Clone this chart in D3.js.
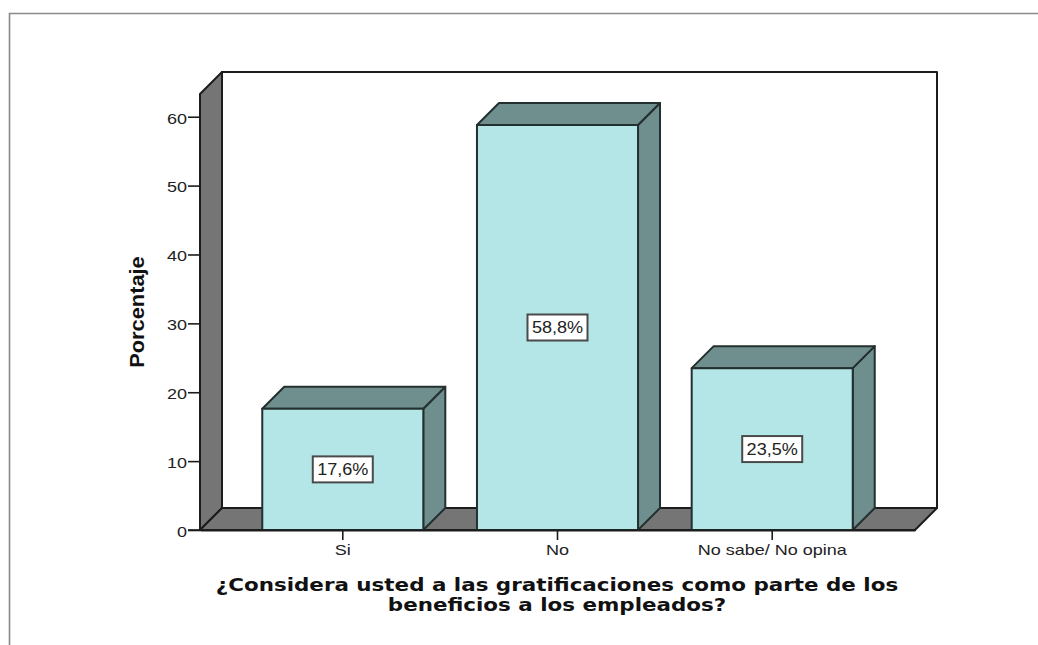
<!DOCTYPE html>
<html>
<head>
<meta charset="utf-8">
<script src="https://d3js.org/d3.v7.min.js"></script>
<style>
html,body{margin:0;padding:0;background:#fff;overflow:hidden}
svg{display:block}
</style>
</head>
<body>
<svg id="c" width="1038" height="645"></svg>
<script>
const categories = ["Si", "No", "No sabe/ No opina"];
const percentages = [17.6, 58.8, 23.5];
const valueLabels = ["17,6%", "58,8%", "23,5%"];
const yTicks = [0, 10, 20, 30, 40, 50, 60];
const yTitle = "Porcentaje";
const xTitleLines = ["¿Considera usted a las gratificaciones como parte de los", "beneficios a los empleados?"];

const svg = d3.select("#c");
const depth = 22;
const x0 = 200, x1 = 915, yBase = 530, yTop = 94;
const y = d3.scaleLinear().domain([0, 63.3]).range([yBase, yTop]);
const x = d3.scaleBand().domain(categories).range([x0, x1]).paddingInner(0.25).paddingOuter(0.29);
const ink = "#1c1c1c";
const poly = pts => pts.map(p => p.join(",")).join(" ");
// the reference's type is horizontally stretched
const stretch = (sel, k) => sel.each(function () {
  this.setAttribute("lengthAdjust", "spacingAndGlyphs");
  this.setAttribute("textLength", this.getComputedTextLength() * k);
});

// outer frame (cropped at right and bottom)
svg.append("path").attr("d", "M9.5,645V13.5H1038").attr("fill", "none").attr("stroke", "#8a8a8a").attr("stroke-width", 1.6);

// walls
const walls = svg.append("g").attr("stroke", ink).attr("stroke-width", 2).attr("stroke-linejoin", "round");
walls.append("rect").attr("x", x0 + depth).attr("y", yTop - depth).attr("width", x1 - x0).attr("height", yBase - yTop).attr("fill", "#fff");
walls.append("polygon").attr("fill", "#757575").attr("points", poly([[x0, yBase], [x0, yTop], [x0 + depth, yTop - depth], [x0 + depth, yBase - depth]]));
walls.append("polygon").attr("fill", "#757575").attr("points", poly([[x0, yBase], [x0 + depth, yBase - depth], [x1 + depth, yBase - depth], [x1, yBase]]));

// bars
const bars = svg.append("g").attr("stroke", "#23302f").attr("stroke-width", 2).attr("stroke-linejoin", "round")
  .selectAll("g").data(categories).join("g");
const bx = d => x(d), bw = x.bandwidth();
const by = (d, i) => y(percentages[i]);
bars.append("polygon").attr("fill", "#6f8e8e").attr("points", (d, i) => poly([[bx(d) + bw, yBase], [bx(d) + bw, by(d, i)], [bx(d) + bw + depth, by(d, i) - depth], [bx(d) + bw + depth, yBase - depth]]));
bars.append("polygon").attr("fill", "#6f8e8e").attr("points", (d, i) => poly([[bx(d), by(d, i)], [bx(d) + depth, by(d, i) - depth], [bx(d) + bw + depth, by(d, i) - depth], [bx(d) + bw, by(d, i)]]));
bars.append("rect").attr("fill", "#b4e6e7").attr("x", bx).attr("y", by).attr("width", bw).attr("height", (d, i) => yBase - by(d, i));

// axes
const font = "'Liberation Sans', Arial, sans-serif";
const yAxis = svg.append("g").attr("transform", `translate(${x0},0)`).call(d3.axisLeft(y).tickValues(yTicks).tickSize(12).tickPadding(1).tickSizeOuter(0));
const xAxis = svg.append("g").attr("transform", `translate(0,${yBase})`).call(d3.axisBottom(x).tickSize(10).tickPadding(4).tickSizeOuter(0));
yAxis.select(".domain").attr("stroke", ink).attr("stroke-width", 2);
xAxis.select(".domain").attr("stroke", ink).attr("stroke-width", 2);
[yAxis, xAxis].forEach(a => {
  a.selectAll(".tick line").attr("stroke", ink).attr("stroke-width", 1.6);
  a.selectAll(".tick text").attr("fill", "#222").attr("font-family", font).attr("font-size", 15);
});
yAxis.selectAll(".tick text").attr("y", 1.5);
stretch(yAxis.selectAll(".tick text"), 1.2);
stretch(xAxis.selectAll(".tick text"), 1.2);
yAxis.select(".domain").remove();
svg.append("line").attr("x1", 188).attr("x2", x0).attr("y1", yBase).attr("y2", yBase).attr("stroke", ink).attr("stroke-width", 1.6);

// value labels
const lab = svg.append("g").selectAll("g").data(categories).join("g")
  .attr("transform", (d, i) => `translate(${x(d) + bw / 2},${y(percentages[i] / 2)})`);
lab.append("rect").attr("x", -30).attr("y", -13).attr("width", 60).attr("height", 26)
  .attr("fill", "#fff").attr("stroke", "#4a4a4a").attr("stroke-width", 2);
stretch(lab.append("text").text((d, i) => valueLabels[i]).attr("text-anchor", "middle").attr("y", 6)
  .attr("font-family", font).attr("font-size", 16).attr("fill", "#222"), 1.13);

// titles
stretch(svg.append("text").text(yTitle).attr("transform", "translate(144,312) rotate(-90)").attr("text-anchor", "middle")
  .attr("font-family", font).attr("font-weight", "bold").attr("font-size", 20).attr("fill", "#111"), 1.09);
stretch(svg.append("g").selectAll("text").data(xTitleLines).join("text").text(d => d)
  .attr("x", 557).attr("y", (d, i) => 591 + i * 20).attr("text-anchor", "middle")
  .attr("font-family", "'DejaVu Sans', Verdana, sans-serif").attr("font-weight", "bold").attr("font-size", 17).attr("fill", "#111"), 1.26);
</script>
</body>
</html>
